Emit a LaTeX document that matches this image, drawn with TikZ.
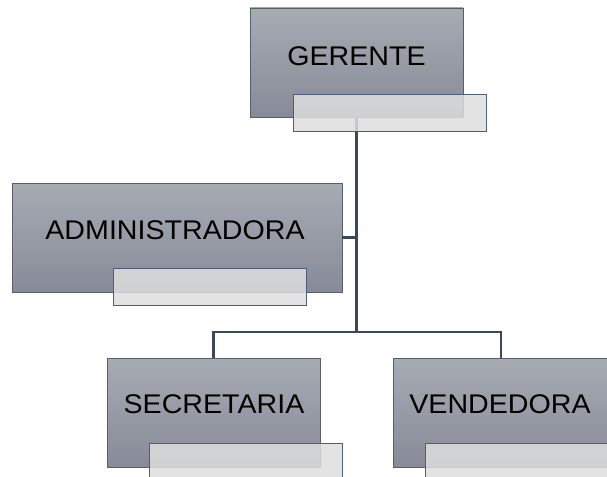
\documentclass[tikz,border=0pt]{standalone}
\usepackage{fontspec}
\setmainfont[FakeStretch=1.06]{Liberation Sans}
\usepackage{tikz}
\usetikzlibrary{calc,positioning}
\definecolor{boxtop}{HTML}{A7ABB4}
\definecolor{boxbot}{HTML}{868B97}
\definecolor{boxedge}{HTML}{585D66}
\definecolor{subfill}{HTML}{DEDEDE}
\definecolor{subedge}{HTML}{4D5E78}
\definecolor{lineacolor}{HTML}{3A4859}
\tikzset{
cargo/.style={draw=boxedge, line width=0.8pt, top color=boxtop, bottom color=boxbot, minimum height=109pt, inner sep=0pt}, % the grey boxes
subcaja/.style={draw=subedge, line width=0.9pt, fill=subfill, fill opacity=0.85, minimum width=193pt, minimum height=37pt, inner sep=0pt}, % the light boxes on top
etiqueta/.style={font=\fontsize{27}{30}\selectfont, text=black},
linea/.style={draw=lineacolor, line width=2.2pt},
}

\begin{document}
\begin{tikzpicture}[x=1pt,y=1pt,yscale=-1,xscale=1]
		\clip (0,0) rectangle (607,476); %set diagram size
		
		% Boxes
		\node [cargo, minimum width=213pt] (ger) at (356.5,62.5) {};
		\node [cargo, minimum width=330pt] (adm) at (177,237.5) {};
		\node [cargo, minimum width=213pt] (sec) at (213.5,412.5) {};
		\node [cargo, minimum width=216pt] (ven) at (501,412.5) {};
		
		% Text Node
		\node [etiqueta] (gertxt) at (356.5,56) {GERENTE};
		\node [etiqueta] (admtxt) at (175,230) {ADMINISTRADORA};
		\node [etiqueta] (sectxt) at (214,404) {SECRETARIA};
		\node [etiqueta] (ventxt) at (500,404) {VENDEDORA};
		
		% Connectors
		\coordinate (rama) at (357,332);
		\draw [linea] (ger.south) -- (ger.south |- rama);
		\draw [linea] (adm.east) -- (adm.east -| rama);
		\draw [linea] (sec.north) -- (sec.north |- rama) -- (ven.north |- rama) -- (ven.north);
		
		% Light boxes
		\node [subcaja] (gersub) at (389.5,112.5) {};
		\node [subcaja] (admsub) at (209.5,287) {};
		\node [subcaja] (secsub) at (246,461.5) {};
		\node [subcaja] (vensub) at (521.5,461.5) {};
		
		\end{tikzpicture}
\end{document}
